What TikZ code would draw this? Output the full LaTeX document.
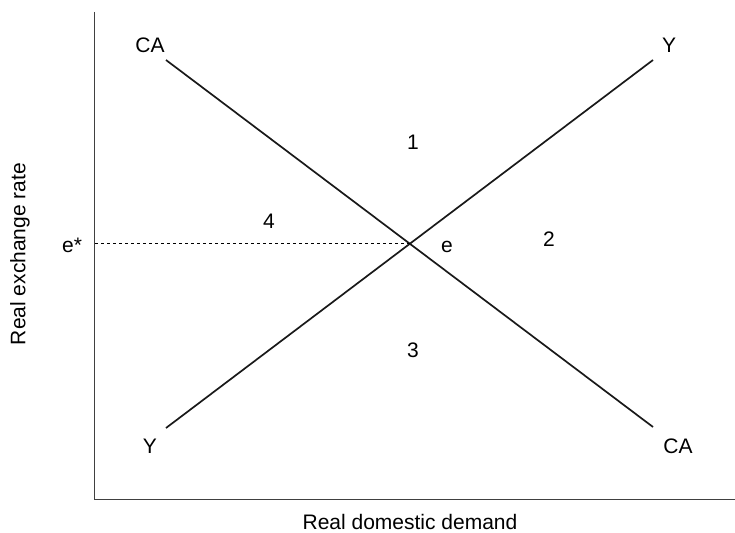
\documentclass[tikz,border=0pt]{standalone}
\usepackage{fontspec}
\setmainfont{Liberation Sans}
\usetikzlibrary{positioning}

\begin{document}
\begin{tikzpicture}[x=1pt,y=-1pt,
 lbl/.style={font=\fontsize{21}{24}\selectfont,inner sep=0pt},
 curve/.style={line width=1.7pt,color=black!90},
 axis/.style={line width=0.9pt,color=black!75}]
\useasboundingbox (0,0) rectangle (735,532);
% axes
\coordinate (orig) at (94,499);
\coordinate (ytop) at (94,12);
\coordinate (xend) at (735,499);
\draw[axis] (ytop) -- (orig) -- (xend);
% schedules
\coordinate (caA) at (166,60);
\coordinate (caB) at (653,427);
\coordinate (yA) at (166,428);
\coordinate (yB) at (653,60);
\draw[curve] (caA) -- (caB);
\draw[curve] (yA) -- (yB);
\coordinate (eq) at (intersection of caA--caB and yA--yB);
\draw[dashed,line width=0.6pt] (eq) -- (eq -| orig);
% labels
\node[lbl,anchor=base] (caTop) at (150,53) {CA};
\node[lbl,anchor=base] (caBot) at (678,453) {CA};
\node[lbl,anchor=base] (yTop) at (669,53) {Y};
\node[lbl,anchor=base] (yBot) at (150,453) {Y};
\node[lbl,anchor=base] (estar) at (72,252) {e*};
\node[lbl,anchor=base] (elbl) at (447,252) {e};
\node[lbl,anchor=base] (one) at (413,149) {1};
\node[lbl,anchor=base] (two) at (549,246) {2};
\node[lbl,anchor=base] (three) at (413,357) {3};
\node[lbl,anchor=base] (four) at (269,228) {4};
\node[lbl,rotate=90] (ylab) at (20,254) {Real exchange rate};
\node[lbl,anchor=base] (xlab) at (410,529) {Real domestic demand};
\end{tikzpicture}
\end{document}
